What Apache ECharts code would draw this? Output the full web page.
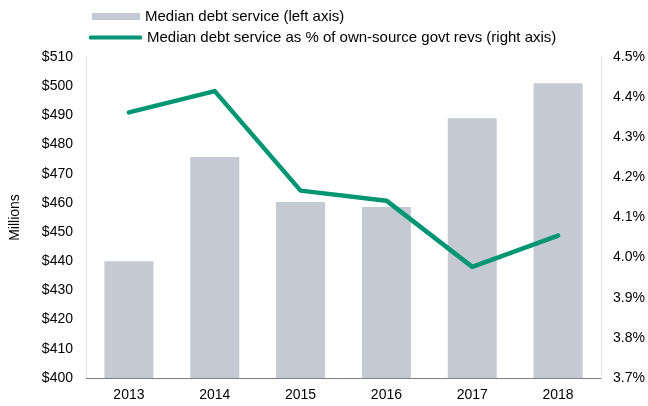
<!DOCTYPE html>
<html>
<head>
<meta charset="utf-8">
<script src="https://cdn.jsdelivr.net/npm/echarts@6/dist/echarts.min.js"></script>
<style>
  html, body { margin: 0; padding: 0; background: #fff; }
  #chart { width: 648px; height: 406px; }
</style>
</head>
<body>
<div id="chart"></div>
<script>
// Years on the category axis
const years = ['2013', '2014', '2015', '2016', '2017', '2018'];
// Median debt service, $ millions (left axis)
const debtService = [440, 475.7, 460.3, 458.6, 489, 501];
// Median debt service as % of own-source government revenues (right axis)
const debtShare = [4.362, 4.415, 4.167, 4.142, 3.977, 4.055];

const barName = 'Median debt service (left axis)';
const lineName = 'Median debt service as % of own-source govt revs (right axis)';

const font = 'Liberation Sans, Arial, sans-serif';
const legendText = { fontFamily: font, fontSize: 15, color: '#000' };
const tickText = { fontFamily: font, fontSize: 14, color: '#000' };
const chart = echarts.init(document.getElementById('chart'));

chart.setOption({
  animation: false,
  legend: [
    {
      left: 87,
      top: 4,
      itemGap: 5,
      itemWidth: 48,
      itemHeight: 7,
      textStyle: legendText,
      data: [{ name: barName, icon: 'rect' }]
    },
    {
      left: 84,
      top: 25,
      itemWidth: 53,
      itemHeight: 4,
      textStyle: legendText,
      data: [{ name: lineName, icon: 'roundRect' }]
    }
  ],
  grid: { left: 86, right: 47, top: 57, bottom: 28 },
  xAxis: {
    type: 'category',
    data: years,
    axisTick: { show: false },
    axisLine: { lineStyle: { color: '#7f7f7f', width: 1 } },
    axisLabel: Object.assign({ margin: 10 }, tickText)
  },
  yAxis: [
    {
      type: 'value',
      min: 400, max: 510, interval: 10,
      name: 'Millions',
      nameLocation: 'middle',
      nameGap: 64,
      nameRotate: 90,
      nameTextStyle: tickText,
      splitLine: { show: false },
      axisTick: { show: false },
      axisLine: { show: true, lineStyle: { color: '#e3e3e3' } },
      axisLabel: Object.assign({ margin: 13, formatter: v => '$' + v }, tickText)
    },
    {
      type: 'value',
      min: 3.7, max: 4.5, interval: 0.1,
      position: 'right',
      splitLine: { show: false },
      axisTick: { show: false },
      axisLine: { show: true, lineStyle: { color: '#e3e3e3' } },
      axisLabel: Object.assign({ margin: 12, formatter: v => v.toFixed(1) + '%' }, tickText)
    }
  ],
  series: [
    {
      name: barName,
      type: 'bar',
      yAxisIndex: 0,
      data: debtService,
      barWidth: 49,
      itemStyle: { color: '#c5c9d4' }
    },
    {
      name: lineName,
      type: 'line',
      yAxisIndex: 1,
      data: debtShare,
      symbol: 'none',
      lineStyle: { color: '#009673', width: 4.5, cap: 'round', join: 'round' },
      itemStyle: { color: '#009673' }
    }
  ]
});
</script>
</body>
</html>
